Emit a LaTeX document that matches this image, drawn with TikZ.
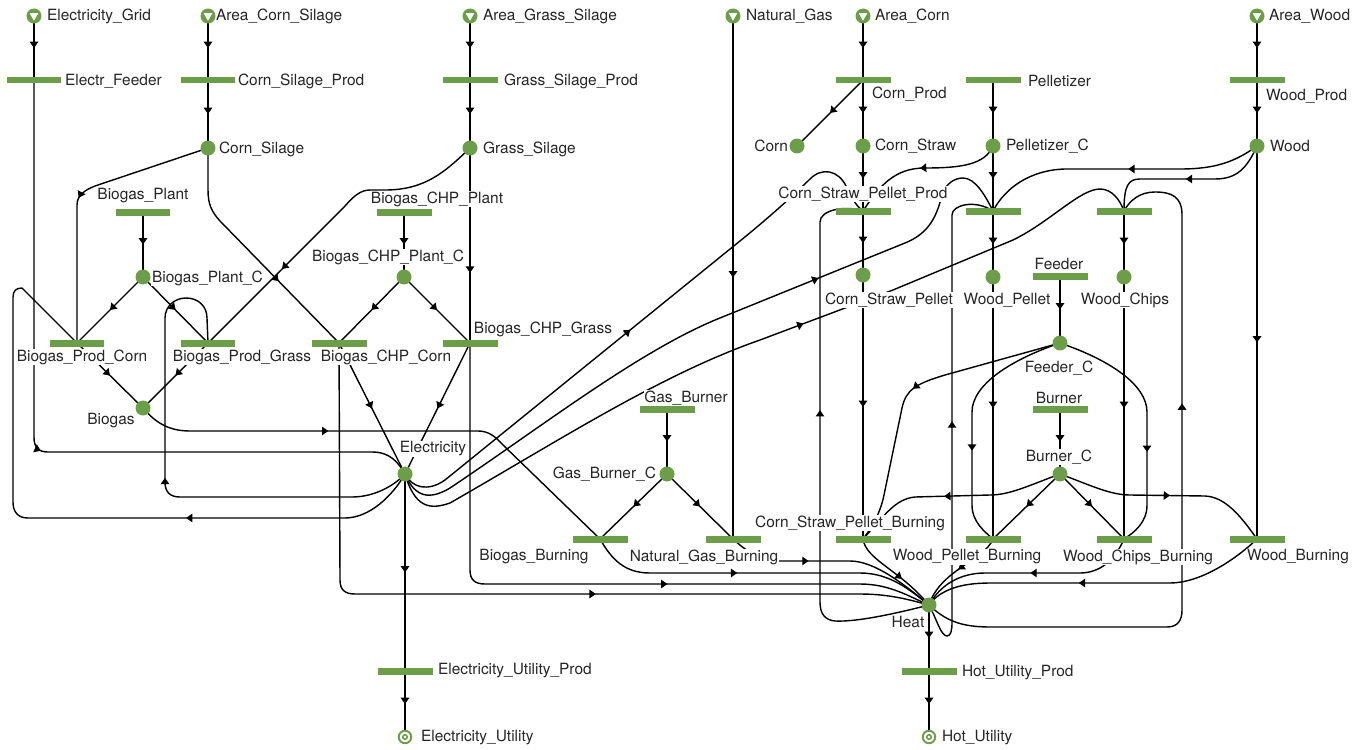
\documentclass[tikz,border=0pt]{standalone}
\usepackage{fontspec}
\setmainfont{TeX Gyre Heros}
\usetikzlibrary{arrows.meta,decorations.markings}
\definecolor{pg}{RGB}{108,158,74}
\pgfdeclarelayer{edges}
\pgfdeclarelayer{labels}
\pgfsetlayers{edges,labels,main}
\begin{document}
\begin{tikzpicture}[x=0.02cm,y=-0.02cm,
  font=\fontsize{8.8pt}{10pt}\selectfont,
  trans/.style={rectangle, fill=pg, minimum width=1.1cm, minimum height=0.14cm, inner sep=0pt},
  place/.style={circle, fill=pg, minimum size=0.3cm, inner sep=0pt},
  src/.style={circle, fill=pg, minimum size=0.3cm, inner sep=0pt,
    path picture={\fill[white] ([shift={(-0.085cm,0.055cm)}]path picture bounding box.center) -- ([shift={(0.085cm,0.055cm)}]path picture bounding box.center) -- ([shift={(0cm,-0.095cm)}]path picture bounding box.center) -- cycle;}},
  sink/.style={circle, draw=pg, line width=1.1pt, fill=white, minimum size=0.25cm, inner sep=0pt,
    path picture={\draw[pg, line width=0.9pt] (path picture bounding box.center) circle[radius=0.045cm];}},
  lbl/.style={fill=white, inner sep=0.4pt, text=black!85},
  arc/.style={line width=0.8pt, black},
  fa/.style={arc, postaction={decorate}, decoration={markings, mark=at position #1 with {\arrow{Triangle[length=3.6pt,width=4.8pt]}}}},
  fa/.default=0.5]
\useasboundingbox (0,0) rectangle (1365,750);

% ---------- sources and sinks
\node[src] (sEG) at (34,16) {};
\node[src] (sACS) at (208,16) {};
\node[src] (sAGS) at (470,16) {};
\node[src] (sNG) at (733,16) {};
\node[src] (sAC) at (863,16) {};
\node[src] (sAW) at (1257,16) {};
\node[sink] (kEU) at (405,737) {};
\node[sink] (kHU) at (929,737) {};

% ---------- transitions
\node[trans] (tEF) at (34,80) {};
\node[trans] (tCSP) at (208,80) {};
\node[trans] (tGSP) at (470,80) {};
\node[trans] (tCP) at (863,80) {};
\node[trans] (tPel) at (993,80) {};
\node[trans] (tWP) at (1257,80) {};
\node[trans] (tBP) at (143,212) {};
\node[trans] (tBCP) at (404,212) {};
\node[trans] (tCSPP) at (863,211) {};
\node[trans] (tWPP) at (993,211) {};
\node[trans] (tWCP) at (1124,211) {};
\node[trans] (tFeed) at (1060,276) {};
\node[trans] (tBPC) at (77,343) {};
\node[trans] (tBPG) at (208,343) {};
\node[trans] (tBCC) at (339,343) {};
\node[trans] (tBCG) at (470,343) {};
\node[trans] (tGB) at (667,409) {};
\node[trans] (tBur) at (1060,409) {};
\node[trans] (tBB) at (600,539) {};
\node[trans] (tNGB) at (733,539) {};
\node[trans] (tCSPB) at (863,539) {};
\node[trans] (tWPB) at (993,539) {};
\node[trans] (tWCB) at (1124,539) {};
\node[trans] (tWB) at (1257,539) {};
\node[trans] (tEUP) at (405,671) {};
\node[trans] (tHUP) at (929,671) {};

% ---------- places
\node[place] (pCS) at (208,148) {};
\node[place] (pGS) at (470,148) {};
\node[place] (pCorn) at (797,146) {};
\node[place] (pCSt) at (863,146) {};
\node[place] (pPC) at (993,146) {};
\node[place] (pWood) at (1257,146) {};
\node[place] (pBPC) at (143,277) {};
\node[place] (pBCPC) at (404,277) {};
\node[place] (pCSPel) at (863,275) {};
\node[place] (pWPel) at (993,277) {};
\node[place] (pWCh) at (1124,277) {};
\node[place] (pFC) at (1060,343) {};
\node[place] (pBiogas) at (143,408) {};
\node[place] (pElec) at (405,474) {};
\node[place] (pGBC) at (667,474) {};
\node[place] (pBC) at (1060,474) {};
\node[place] (pHeat) at (929,605) {};

% ---------- labels
\begin{pgfonlayer}{labels}
\node[lbl,anchor=west] (lEG) at (46,16) {Electricity\_Grid};
\node[lbl,anchor=west] (lACS) at (215,16) {Area\_Corn\_Silage};
\node[lbl,anchor=west] (lAGS) at (482,16) {Area\_Grass\_Silage};
\node[lbl,anchor=west] (lNG) at (745,16) {Natural\_Gas};
\node[lbl,anchor=west] (lAC) at (874,16) {Area\_Corn};
\node[lbl,anchor=west] (lAW) at (1268,16) {Area\_Wood};
\node[lbl,anchor=west] (lEF) at (64,81) {Electr\_Feeder};
\node[lbl,anchor=west] (lCSP) at (237,81) {Corn\_Silage\_Prod};
\node[lbl,anchor=west] (lGSP) at (503,81) {Grass\_Silage\_Prod};
\node[lbl,anchor=west] (lCP) at (871,94) {Corn\_Prod};
\node[lbl,anchor=west] (lPel) at (1027,81) {Pelletizer};
\node[lbl,anchor=west] (lWP) at (1265,96) {Wood\_Prod};
\node[lbl,anchor=west] (lCS) at (218,149) {Corn\_Silage};
\node[lbl,anchor=west] (lGS) at (482,149) {Grass\_Silage};
\node[lbl,anchor=east] (lCorn) at (789,146) {Corn};
\node[lbl,anchor=west] (lCSt) at (874,146) {Corn\_Straw};
\node[lbl,anchor=west] (lPC) at (1005,146) {Pelletizer\_C};
\node[lbl,anchor=west] (lWood) at (1269,146) {Wood};
\node[lbl] (lBP) at (143,196) {Biogas\_Plant};
\node[lbl] (lBCP) at (437,199) {Biogas\_CHP\_Plant};
\node[lbl] (lCSPP) at (863,194) {Corn\_Straw\_Pellet\_Prod};
\node[lbl,anchor=west] (lBPC) at (151,278) {Biogas\_Plant\_C};
\node[lbl] (lBCPC) at (388,257) {Biogas\_CHP\_Plant\_C};
\node[lbl] (lCSPel) at (889,300) {Corn\_Straw\_Pellet};
\node[lbl] (lWPel) at (1007,300) {Wood\_Pellet};
\node[lbl] (lFeed) at (1059,264) {Feeder};
\node[lbl] (lWCh) at (1125,300) {Wood\_Chips};
\node[lbl] (lBPCo) at (82,357) {Biogas\_Prod\_Corn};
\node[lbl] (lBPG) at (242,357) {Biogas\_Prod\_Grass};
\node[lbl] (lBCC) at (386,357) {Biogas\_CHP\_Corn};
\node[lbl] (lBCG) at (543,329) {Biogas\_CHP\_Grass};
\node[lbl] (lFC) at (1059,368) {Feeder\_C};
\node[lbl] (lBiogas) at (111,421) {Biogas};
\node[lbl] (lGB) at (686,398) {Gas\_Burner};
\node[lbl] (lBur) at (1059,398) {Burner};
\node[lbl] (lElec) at (433,449) {Electricity};
\node[lbl,anchor=east] (lGBC) at (657,474) {Gas\_Burner\_C};
\node[lbl] (lBC) at (1059,457) {Burner\_C};
\node[lbl] (lBB) at (534,557) {Biogas\_Burning};
\node[lbl] (lNGB) at (704,557) {Natural\_Gas\_Burning};
\node[lbl] (lCSPB) at (850,523) {Corn\_Straw\_Pellet\_Burning};
\node[lbl] (lWPB) at (967,557) {Wood\_Pellet\_Burning};
\node[lbl] (lWCB) at (1138,557) {Wood\_Chips\_Burning};
\node[lbl] (lWB) at (1298,557) {Wood\_Burning};
\node[lbl] (lHeat) at (908,622) {Heat};
\node[lbl,anchor=west] (lEUP) at (437,671) {Electricity\_Utility\_Prod};
\node[lbl,anchor=west] (lHUP) at (961,673) {Hot\_Utility\_Prod};
\node[lbl,anchor=west] (lEU) at (420,738) {Electricity\_Utility};
\node[lbl,anchor=west] (lHU) at (941,738) {Hot\_Utility};
\end{pgfonlayer}

% ---------- arcs
\begin{pgfonlayer}{edges}
\draw[fa] (sEG.center) -- (tEF.center);
\draw[fa] (sACS.center) -- (tCSP.center);
\draw[fa] (sAGS.center) -- (tGSP.center);
\draw[fa] (sAC.center) -- (tCP.center);
\draw[fa] (sAW.center) -- (tWP.center);
\draw[fa] (tCSP.center) -- (pCS.center);
\draw[fa] (tGSP.center) -- (pGS.center);
\draw[fa] (tCP.center) -- (pCorn.center);
\draw[fa] (tCP.center) -- (pCSt.center);
\draw[fa] (tPel.center) -- (pPC.center);
\draw[fa] (tWP.center) -- (pWood.center);
\draw[fa] (pCSt.center) -- (tCSPP.center);
\draw[fa] (pPC.center) -- (tWPP.center);
\draw[fa] (tCSPP.center) -- (pCSPel.center);
\draw[fa] (tWPP.center) -- (pWPel.center);
\draw[fa] (tWCP.center) -- (pWCh.center);
\draw[fa] (tFeed.center) -- (pFC.center);
\draw[fa] (tBur.center) -- (pBC.center);
\draw[fa] (tGB.center) -- (pGBC.center);
\draw[fa] (tBP.center) -- (pBPC.center);
\draw[fa] (tBCP.center) -- (pBCPC.center);
\draw[fa] (pBPC.center) -- (tBPC.center);
\draw[fa] (pBPC.center) -- (tBPG.center);
\draw[fa] (tBPC.center) -- (pBiogas.center);
\draw[fa] (tBPG.center) -- (pBiogas.center);
\draw[fa] (pBCPC.center) -- (tBCC.center);
\draw[fa] (pBCPC.center) -- (tBCG.center);
\draw[fa] (tBCC.center) -- (pElec.center);
\draw[fa] (tBCG.center) -- (pElec.center);
\draw[fa=0.64] (pGS.center) -- (tBCG.center);
\draw[fa] (pGBC.center) -- (tBB.center);
\draw[fa] (pGBC.center) -- (tNGB.center);
\draw[fa] (sNG.center) -- (tNGB.center);
\draw[fa] (pWood.center) -- (tWB.center);
\draw[fa] (pCSPel.center) -- (tCSPB.center);
\draw[fa] (pWPel.center) -- (tWPB.center);
\draw[fa] (pWCh.center) -- (tWCB.center);
\draw[fa] (pBC.center) -- (tWPB.center);
\draw[fa] (pBC.center) -- (tWCB.center);
\draw[fa] (pElec.center) -- (tEUP.center);
\draw[fa] (tEUP.center) -- (kEU.center);
\draw[fa] (pHeat.center) -- (tHUP.center);
\draw[fa] (tHUP.center) -- (kHU.center);
% left part
\draw[fa=0.5] (tEF.center) -- (34,437) .. controls (34,447) and (38,452) .. (48,452) -- (372,452) .. controls (390,452) and (398,462) .. (pElec.center);
\draw[fa=0.49] (pCS.center) -- (95,186) .. controls (85,190) and (77,195) .. (77,205) -- (tBPC.center);
\draw[fa=0.65] (pCS.center) -- (208,190) .. controls (208,205) and (212,212) .. (220,221) -- (tBCC.center);
\draw[fa=0.69] (pGS.center) .. controls (445,172) and (425,190) .. (385,190) -- (370,190) .. controls (360,190) and (353,197) .. (345,206) -- (tBPG.center);
\draw[fa=0.51] (pElec.center) .. controls (395,485) and (375,497) .. (352,497) -- (180,497) .. controls (170,497) and (165,492) .. (165,482) -- (165,318) .. controls (165,306) and (175,298) .. (186,298) .. controls (198,298) and (207,306) .. (207,318) -- (tBPG.center);
\draw[fa=0.33] (pElec.center) .. controls (393,495) and (370,518) .. (345,518) -- (28,518) .. controls (18,518) and (13,512) .. (13,502) -- (13,297) .. controls (13,291) and (16,288) .. (22,288) -- (tBPC.center);
\draw[fa=0.38] (pBiogas.center) .. controls (155,422) and (168,431) .. (190,431) -- (478,431) .. controls (488,431) and (495,436) .. (502,444) -- (tBB.center);
% to heat
\draw[fa=0.6] (tBCC.center) -- (340,580) .. controls (340,590) and (345,594) .. (355,594) -- (860,594) .. controls (890,594) and (910,600) .. (pHeat.center);
\draw[fa=0.62] (tBCG.center) -- (470,570) .. controls (470,580) and (475,584) .. (485,584) -- (860,584) .. controls (890,584) and (910,597) .. (pHeat.center);
\draw[fa=0.43] (tBB.center) .. controls (612,560) and (625,573) .. (650,573) -- (860,573) .. controls (890,573) and (910,590) .. (pHeat.center);
\draw[fa=0.38] (tNGB.center) .. controls (745,550) and (760,561) .. (780,561) -- (850,561) .. controls (875,561) and (905,585) .. (pHeat.center);
\draw[fa=0.6] (tCSPB.center) .. controls (866,560) and (900,570) .. (pHeat.center);
\draw[fa=0.5] (tWPB.center) .. controls (985,560) and (940,570) .. (pHeat.center);
\draw[fa=0.49] (tWCB.center) .. controls (1115,560) and (1100,573) .. (1080,573) -- (985,573) .. controls (960,573) and (940,585) .. (pHeat.center);
\draw[fa=0.55] (tWB.center) .. controls (1235,560) and (1200,583) .. (1170,583) -- (990,583) .. controls (960,583) and (940,590) .. (pHeat.center);
% burner / feeder
\draw[fa=0.52] (pBC.center) .. controls (1090,485) and (1110,495) .. (1130,495) -- (1205,496) .. controls (1225,497) and (1240,515) .. (tWB.center);
\draw[fa=0.55] (pBC.center) .. controls (1030,485) and (1010,495) .. (990,495) -- (915,497) .. controls (895,499) and (885,515) .. (tCSPB.center);
\draw[fa=0.49] (pFC.center) -- (945,375) .. controls (915,384) and (906,390) .. (902,408) -- (884,495) .. controls (880,515) and (870,530) .. (tCSPB.center);
\draw[fa=0.62] (pFC.center) .. controls (1010,360) and (972,385) .. (972,412) -- (972,505) .. controls (972,522) and (985,532) .. (tWPB.center);
\draw[fa=0.62] (pFC.center) .. controls (1110,360) and (1147,385) .. (1147,412) -- (1147,505) .. controls (1147,522) and (1135,532) .. (tWCB.center);
% pellet / chips production inputs
\draw[fa=0.52] (pPC.center) .. controls (985,165) and (960,168) .. (925,168) .. controls (895,168) and (880,185) .. (tCSPP.center);
\draw[fa=0.47] (pWood.center) .. controls (1235,162) and (1215,169) .. (1180,169) -- (1065,169) .. controls (1030,170) and (1005,188) .. (tWPP.center);
\draw[fa=0.5] (pWood.center) .. controls (1247,168) and (1237,179) .. (1215,179) -- (1140,179) .. controls (1128,179) and (1124,186) .. (tWCP.center);
\draw[fa=0.57] (pHeat.center) .. controls (890,615) and (855,622) .. (835,621) .. controls (825,620) and (820,614) .. (820,602) -- (820,222) .. controls (820,210) and (845,205) .. (tCSPP.center);
\draw[fa=0.5] (pHeat.center) .. controls (937,620) and (941,636) .. (947,636) .. controls (951,636) and (952,630) .. (952,622) -- (952,215) .. controls (952,205) and (975,199) .. (tWPP.center);
\draw[fa=0.64] (pHeat.center) .. controls (945,620) and (960,627) .. (990,627) -- (1167,627) .. controls (1178,627) and (1182,620) .. (1182,610) -- (1182,215) .. controls (1182,197) and (1172,192) .. (1155,192) .. controls (1140,192) and (1130,200) .. (tWCP.center);
% electricity to pellet / chips production
\draw[fa=0.48] (pElec.center) .. controls (412,488) and (428,492) .. (445,480) -- (735,245) .. controls (770,217) and (797,192) .. (810,179) .. controls (822,167) and (838,170) .. (846,186) .. controls (850,195) and (855,205) .. (tCSPP.center);
\draw[fa=0.675] (pElec.center) .. controls (415,498) and (430,500) .. (450,488) .. controls (540,428) and (640,350) .. (720,318) -- (905,243) .. controls (930,233) and (937,215) .. (942,195) .. controls (946,183) and (955,178) .. (963,178) .. controls (975,178) and (985,195) .. (tWPP.center);
\draw[fa=0.56] (pElec.center) .. controls (415,508) and (430,510) .. (450,503) .. controls (560,440) and (660,375) .. (760,340) -- (893,290) -- (1013,240) .. controls (1050,222) and (1080,189) .. (1100,189) .. controls (1112,189) and (1120,200) .. (tWCP.center);
\end{pgfonlayer}
\end{tikzpicture}
\end{document}
